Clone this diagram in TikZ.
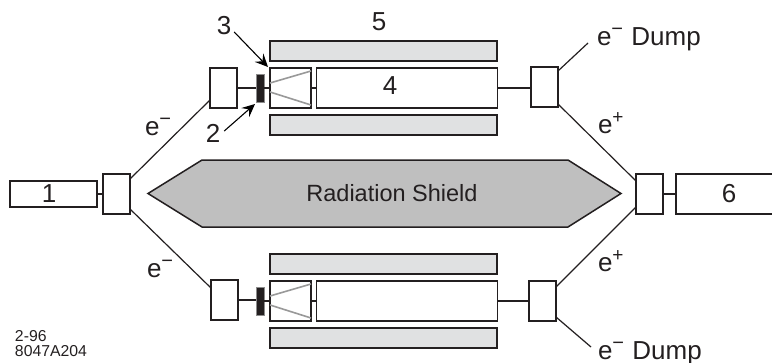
\documentclass[tikz,border=0pt]{standalone}
\usepackage{fontspec}
\setmainfont{Liberation Sans}
\usetikzlibrary{calc,arrows.meta}
\definecolor{ink}{HTML}{231F20}
\definecolor{magnet}{HTML}{E0E1E2}
\definecolor{shield}{HTML}{BFBFBF}
\newcommand{\elmin}{e\raisebox{10pt}{\fontsize{20}{20}\selectfont −}}
\newcommand{\elplus}{e\raisebox{9.5pt}{\fontsize{19}{19}\selectfont +}}
\tikzset{
  x=1pt,y=-1pt,
  every node/.style={inner sep=0pt,outer sep=0pt,text=ink},
  bx/.style={draw=ink,line width=1.5pt,fill=white,rectangle,minimum width=#1,minimum height=40pt},
  bx/.default=27pt,
  magnetbox/.style={draw=ink,line width=1.5pt,fill=magnet,rectangle,minimum width=227pt,minimum height=20pt},
  barbox/.style={draw=black!45,line width=.5pt,fill=ink,rectangle,minimum width=8pt,minimum height=28pt},
  beam/.style={draw=ink,line width=1.4pt},
  wire/.style={draw=ink,line width=1.2pt},
  conegrey/.style={draw=black!40,line width=1.6pt},
  lbl/.style={font=\fontsize{26}{26}\selectfont},
  ptr/.style={draw=black,line width=1.1pt,-{Stealth[length=13pt,width=12pt,inset=5pt]}}
}
\begin{document}
\begin{tikzpicture}
\useasboundingbox (0,0) rectangle (772,362);
% shield
\fill[shield] (148,193.5) -- (202,160) -- (568,160) -- (621,193.5) -- (568,227) -- (202,227) -- cycle;
\draw[ink,line width=1.5pt,line join=miter] (148,193.5) -- (202,160) -- (568,160) -- (621,193.5) -- (568,227) -- (202,227) -- cycle;
\node[font=\fontsize{23.5}{23.5}\selectfont] (shieldtext) at (392,193.5) {Radiation Shield};
% boxes
\node[bx=87pt,minimum height=26pt] (one) at (53.5,194) {};
\node[lbl] (n1) at (49,194) {1};
\node[bx] (splitL) at (116.5,194) {};
\node[bx] (splitR) at (649.5,194) {};
\node[bx=100pt] (six) at (726,194) {};
\node[lbl] (n6) at (729,194) {6};
\node[bx] (upL) at (223.5,88) {};
\node[bx] (loL) at (224.5,300) {};
\node[bx] (upR) at (544.5,87) {};
\node[bx] (loR) at (542.5,301) {};
\node[bx=41pt] (coneU) at (290.5,88) {};
\node[bx=41pt] (coneD) at (290.5,301) {};
\node[bx=181pt] (mainU) at (407,88) {};
\node[bx=181pt] (mainD) at (407,301) {};
\node[lbl] (n4) at (390,86) {4};
\node[magnetbox] (magA) at (383.5,51) {};
\node[magnetbox] (magB) at (383.5,125) {};
\node[magnetbox] (magC) at (383.5,264) {};
\node[magnetbox] (magD) at (383.5,338) {};
\node[barbox] (barU) at (260,88) {};
\node[barbox] (barD) at (260,301) {};
% free ends
\coordinate (dumpU) at (588,43);
\coordinate (dumpD) at (591,347);
% straight connectors
\draw[wire] (one.east) -- (splitL.west);
\draw[wire] (splitR.east) -- (six.west);
\draw[beam] (upL.east) -- (barU.west);
\draw[beam] (barU.east) -- (coneU.west);
\draw[wire] (coneU.east) -- (mainU.west);
\draw[beam] (mainU.east) -- (mainU.east -| upR.west);
\draw[beam] (loL.east) -- (loL.east -| barD.west);
\draw[beam] (barD.east) -- (coneD.west);
\draw[wire] (coneD.east) -- (mainD.west);
\draw[beam] (mainD.east) -- (loR.west);
% sloped connectors
\draw[wire] ($(splitL.north east)+(0,5)$) -- ($(upL.south west)+(0,-8)$);
\draw[wire] ($(splitL.south east)+(0,-5)$) -- ($(loL.north west)+(0,8)$);
\draw[wire] ($(upR.north east)+(0,4)$) -- (dumpU);
\draw[wire] ($(upR.south east)+(0,-3)$) -- ($(splitR.north west)+(0,7)$);
\draw[wire] ($(loR.north east)+(0,6)$) -- ($(splitR.south west)+(0,-7)$);
\draw[wire] ($(loR.south east)+(0,-4)$) -- (dumpD);
% cones
\draw[conegrey] ($(coneU.west)+(0,-5)$) -- ($(coneU.north east)+(0,3)$);
\draw[conegrey] ($(coneU.west)+(0,4)$) -- ($(coneU.south east)+(0,-3)$);
\draw[conegrey] ($(coneD.west)+(0,-5)$) -- ($(coneD.north east)+(0,3)$);
\draw[conegrey] ($(coneD.west)+(0,4)$) -- ($(coneD.south east)+(0,-3)$);
% pointers
\node[lbl] (n3) at (224,26) {3};
\node[lbl] (n2) at (213,133) {2};
\node[lbl] (n5) at (379,22) {5};
\draw[ptr] ($(n3.east)+(3,6)$) -- ($(coneU.north west)+(-2,-1)$);
\draw[ptr] ($(n2.east)+(4,-2)$) -- ($(barU.south west)+(-1,2)$);
% labels
\node[lbl,anchor=base west] (eA) at (145,135) {\elmin};
\node[lbl,anchor=base west] (eB) at (147,277) {\elmin};
\node[lbl,anchor=base west] (eC) at (598,133) {\elplus};
\node[lbl,anchor=base west] (eD) at (598,271) {\elplus};
\node[lbl,anchor=base west] (dumpTextU) at (597,45) {\elmin\kern1pt{} Dump};
\node[lbl,anchor=base west] (dumpTextD) at (598,359.5) {\elmin\kern1pt{} Dump};
\node[font=\fontsize{15.8}{15.8}\selectfont,anchor=west] (date) at (15,336) {2-96};
\node[font=\fontsize{15.8}{15.8}\selectfont,anchor=west] (code) at (15,351) {8047A204};
\end{tikzpicture}
\end{document}
